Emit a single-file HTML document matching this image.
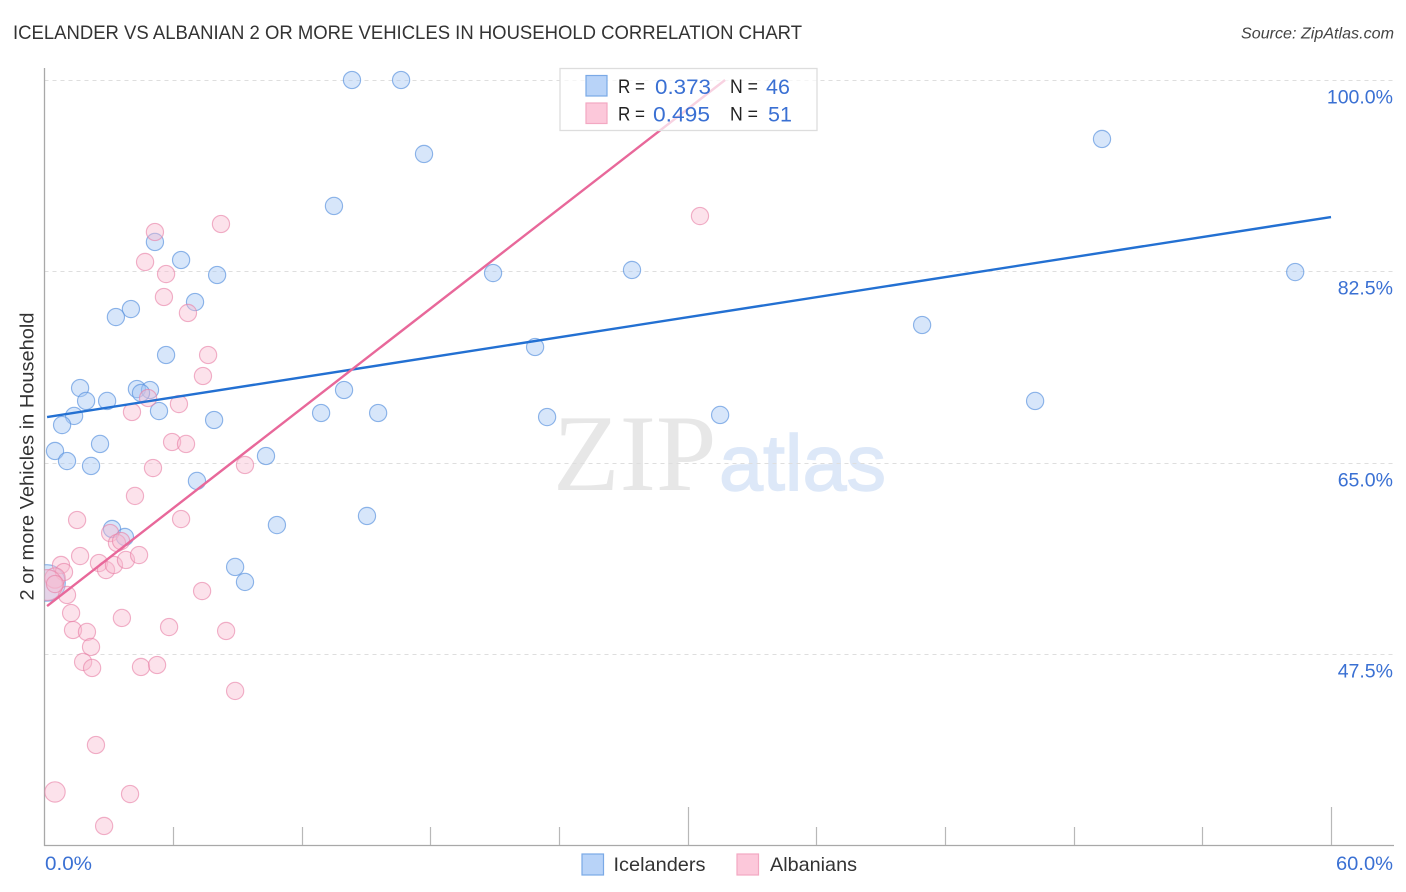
<!DOCTYPE html>
<html lang="en">
<head>
<meta charset="utf-8">
<title>Icelander vs Albanian 2 or more Vehicles in Household Correlation Chart</title>
<style>
  html, body { margin: 0; padding: 0; background: #fff; }
  body { width: 1406px; height: 892px; overflow: hidden; }
  svg { display: block; font-family: "Liberation Sans", sans-serif; }
</style>
</head>
<body>
<svg id="chart" xmlns="http://www.w3.org/2000/svg" width="1406" height="892" viewBox="0 0 1406 892">
  <defs>
    <clipPath id="plot-clip"><rect x="44.5" y="60" width="1350" height="785"/></clipPath>
  </defs>
  <rect x="0" y="0" width="1406" height="892" fill="#ffffff"/>
  <text x="13" y="39" font-size="19.5" fill="#333333" textLength="789" lengthAdjust="spacingAndGlyphs">ICELANDER VS ALBANIAN 2 OR MORE VEHICLES IN HOUSEHOLD CORRELATION CHART</text>
  <text x="1241" y="38.5" font-size="16" font-style="italic" fill="#444444" textLength="153" lengthAdjust="spacingAndGlyphs">Source: ZipAtlas.com</text>
  <g>
    <text x="553" y="490" font-size="109" font-family="'Liberation Serif', serif" fill="#e7e7e7">ZIP</text>
    <text x="719" y="490" font-size="79" font-family="'Liberation Sans', sans-serif" fill="#dde8f8" stroke="#dde8f8" stroke-width="1.4" textLength="167" lengthAdjust="spacingAndGlyphs">atlas</text>
  </g>
  <g id="grid"></g>
  <g id="axes"></g>
  <g id="points" clip-path="url(#plot-clip)"></g>
  <g id="trends"></g>
  <text transform="translate(33.5,456.5) rotate(-90)" font-size="19.5" fill="#333333" text-anchor="middle" textLength="288" lengthAdjust="spacingAndGlyphs">2 or more Vehicles in Household</text>
  <g>
    <rect x="560" y="68.5" width="257" height="62" fill="#ffffff" fill-opacity="0.7" stroke="#dddddd" stroke-width="1.3"/>
    <rect x="586" y="75.5" width="21" height="20.5" fill="#b8d3f8" stroke="#7aa9e6" stroke-width="1.2"/>
    <rect x="586" y="103" width="21" height="20.5" fill="#fcc8da" stroke="#f3a8c2" stroke-width="1.2"/>
    <text x="618" y="93" font-size="19" fill="#222222" textLength="27" lengthAdjust="spacingAndGlyphs">R =</text>
    <text x="655" y="94" font-size="21.5" fill="#3a70d3" textLength="56" lengthAdjust="spacingAndGlyphs">0.373</text>
    <text x="730" y="93" font-size="19" fill="#222222" textLength="28" lengthAdjust="spacingAndGlyphs">N =</text>
    <text x="766" y="94" font-size="21.5" fill="#3a70d3">46</text>
    <text x="618" y="120.5" font-size="19" fill="#222222" textLength="27" lengthAdjust="spacingAndGlyphs">R =</text>
    <text x="653" y="121.5" font-size="21.5" fill="#3a70d3" textLength="57" lengthAdjust="spacingAndGlyphs">0.495</text>
    <text x="730" y="120.5" font-size="19" fill="#222222" textLength="28" lengthAdjust="spacingAndGlyphs">N =</text>
    <text x="768" y="121.5" font-size="21.5" fill="#3a70d3">51</text>
  </g>
  <g>
    <rect x="582" y="854" width="21.5" height="21" fill="#b8d3f8" stroke="#7aa9e6" stroke-width="1.2"/>
    <text x="613.5" y="871" font-size="19.5" fill="#333333" textLength="92" lengthAdjust="spacingAndGlyphs">Icelanders</text>
    <rect x="737" y="854" width="21.5" height="21" fill="#fcc8da" stroke="#f3a8c2" stroke-width="1.2"/>
    <text x="770" y="871" font-size="19.5" fill="#333333" textLength="87" lengthAdjust="spacingAndGlyphs">Albanians</text>
  </g>
</svg>
<script>
const xTickValues = [0, 6, 12, 18, 24, 30, 36, 42, 48, 54, 60];
const xLabelValues = ['0.0%', '60.0%'];
const yTickValues = [100, 82.5, 65, 47.5];
const yTickLabels = ['100.0%', '82.5%', '65.0%', '47.5%'];

const icelanderX = [14.34,16.63,17.70,49.32,13.50,5.15,6.37,8.05,20.92,27.40,58.33,7.02,4.03,3.33,40.93,22.88,5.67,1.66,4.31,4.92,4.50,1.94,2.92,13.97,5.34,1.38,7.91,0.82,12.90,15.56,23.44,31.51,46.20,2.59,0.49,1.05,2.17,10.33,7.11,15.04,10.84,3.15,3.75,8.89,9.35,0.12];
const icelanderY = [100,100,93.24,94.61,88.49,85.20,83.55,82.18,82.36,82.64,82.45,79.71,79.07,78.34,77.61,75.60,74.87,71.85,71.76,71.67,71.40,70.67,70.67,71.67,69.75,69.30,68.93,68.47,69.57,69.57,69.20,69.39,70.67,66.74,66.10,65.18,64.73,65.64,63.36,60.16,59.33,58.97,58.24,55.50,54.13,54.04];
const icelanderWeight = [1,1,1,1,1,1,1,1,1,1,1,1,1,1,1,1,1,1,1,1,1,1,1,1,1,1,1,1,1,1,1,1,1,1,1,1,1,1,1,1,1,1,1,1,1,4.5];

const albanianX = [8.23,5.15,4.69,5.67,5.57,6.69,7.63,7.39,4.83,6.27,4.08,5.95,6.60,5.06,9.35,4.22,1.52,6.37,3.06,3.38,3.57,1.66,2.54,2.87,3.24,3.80,4.41,0.77,0.91,1.05,1.24,1.33,1.98,2.17,1.80,2.22,3.61,5.81,7.35,8.47,4.50,5.25,8.89,2.40,0.49,3.99,2.78,30.57,0.49,0.12,0.49];
const albanianY = [86.84,86.11,83.37,82.27,80.17,78.71,74.87,72.95,70.94,70.39,69.66,66.92,66.74,64.54,64.82,61.99,59.79,59.88,58.60,57.69,57.87,56.50,55.86,55.22,55.68,56.14,56.59,55.68,55.04,52.94,51.29,49.74,49.56,48.19,46.82,46.27,50.84,50.01,53.30,49.65,46.36,46.54,44.17,39.23,34.94,34.75,31.83,87.57,54.49,53.85,53.94];
const albanianWeight = [1,1,1,1,1,1,1,1,1,1,1,1,1,1,1,1,1,1,1,1,1,1,1,1,1,1,1,1,1,1,1,1,1,1,1,1,1,1,1,1,1,1,1,1,1.4,1,1,1,1.4,3.2,1];

const icelanderTrendX = [0.12, 60];
const icelanderTrendY = [69.20, 87.48];
const albanianTrendX = [0.12, 31.74];
const albanianTrendY = [51.93, 100];

const NS = 'http://www.w3.org/2000/svg';
const scaleX = v => 44.5 + v * (1331 - 44.5) / 60;
const scaleY = v => 80 + (100 - v) * (654.5 - 80) / 52.5;

function make(tag, attrs, parent) {
  const el = document.createElementNS(NS, tag);
  for (const k in attrs) el.setAttribute(k, attrs[k]);
  parent.appendChild(el);
  return el;
}

const grid = document.getElementById('grid');
const axes = document.getElementById('axes');
const pts = document.getElementById('points');
const trends = document.getElementById('trends');

yTickValues.forEach((v, i) => {
  const y = Math.floor(scaleY(v)) + 0.5;
  const line = make('line', {x1: 44.5, x2: 1394, y1: y, y2: y, stroke: '#dedede', 'stroke-width': 1, 'stroke-dasharray': '4 4'}, grid);
  
  
  const label = make('text', {x: 1393, y: y + 23, 'font-size': 19.5, fill: '#3a70d3', 'text-anchor': 'end'}, axes);
  
  
  label.textContent = yTickLabels[i];
});

const yAxisLine = make('line', {x1: 44.5, x2: 44.5, y1: 68, y2: 846, stroke: '#a8a8a8', 'stroke-width': 1.3}, axes);


const xAxisLine = make('line', {x1: 44, x2: 1394, y1: 845.5, y2: 845.5, stroke: '#a8a8a8', 'stroke-width': 1.3}, axes);



xTickValues.forEach(v => {
  const x = Math.round(scaleX(v)) + 0.5;
  const top = v % 30 === 0 ? 807 : 827;
  if (v === 0) return;
  const tick = make('line', {x1: x, x2: x, y1: top, y2: 845, stroke: '#b8b8b8', 'stroke-width': 1.2}, axes);
  
  
});

const xLabelStart = make('text', {x: 45, y: 870, 'font-size': 19.5, fill: '#3a70d3', textLength: 47, lengthAdjust: 'spacingAndGlyphs'}, axes);


xLabelStart.textContent = xLabelValues[0];
const xLabelEnd = make('text', {x: 1336, y: 870, 'font-size': 19.5, fill: '#3a70d3', textLength: 57, lengthAdjust: 'spacingAndGlyphs'}, axes);


xLabelEnd.textContent = xLabelValues[1];

icelanderX.forEach((v, i) => {
  const c = make('circle', {cx: scaleX(v), cy: scaleY(icelanderY[i]), r: 8.6 * Math.sqrt(icelanderWeight[i]), fill: '#a6c8f4', 'fill-opacity': 0.45, stroke: '#5c94de', 'stroke-opacity': 0.68, 'stroke-width': 1.15}, pts);
  
  
});
albanianX.forEach((v, i) => {
  const c = make('circle', {cx: scaleX(v), cy: scaleY(albanianY[i]), r: 8.6 * Math.sqrt(albanianWeight[i]), fill: '#f9b9cf', 'fill-opacity': 0.42, stroke: '#e87fa5', 'stroke-opacity': 0.6, 'stroke-width': 1.15}, pts);
  
  
});

const blueLine = make('line', {x1: scaleX(icelanderTrendX[0]), y1: scaleY(icelanderTrendY[0]), x2: scaleX(icelanderTrendX[1]), y2: scaleY(icelanderTrendY[1]), stroke: '#2370d2', 'stroke-width': 2.4}, trends);


const pinkLine = make('line', {x1: scaleX(albanianTrendX[0]), y1: scaleY(albanianTrendY[0]), x2: scaleX(albanianTrendX[1]), y2: scaleY(albanianTrendY[1]), stroke: '#e8689a', 'stroke-width': 2.4}, trends);


</script>
</body>
</html>
